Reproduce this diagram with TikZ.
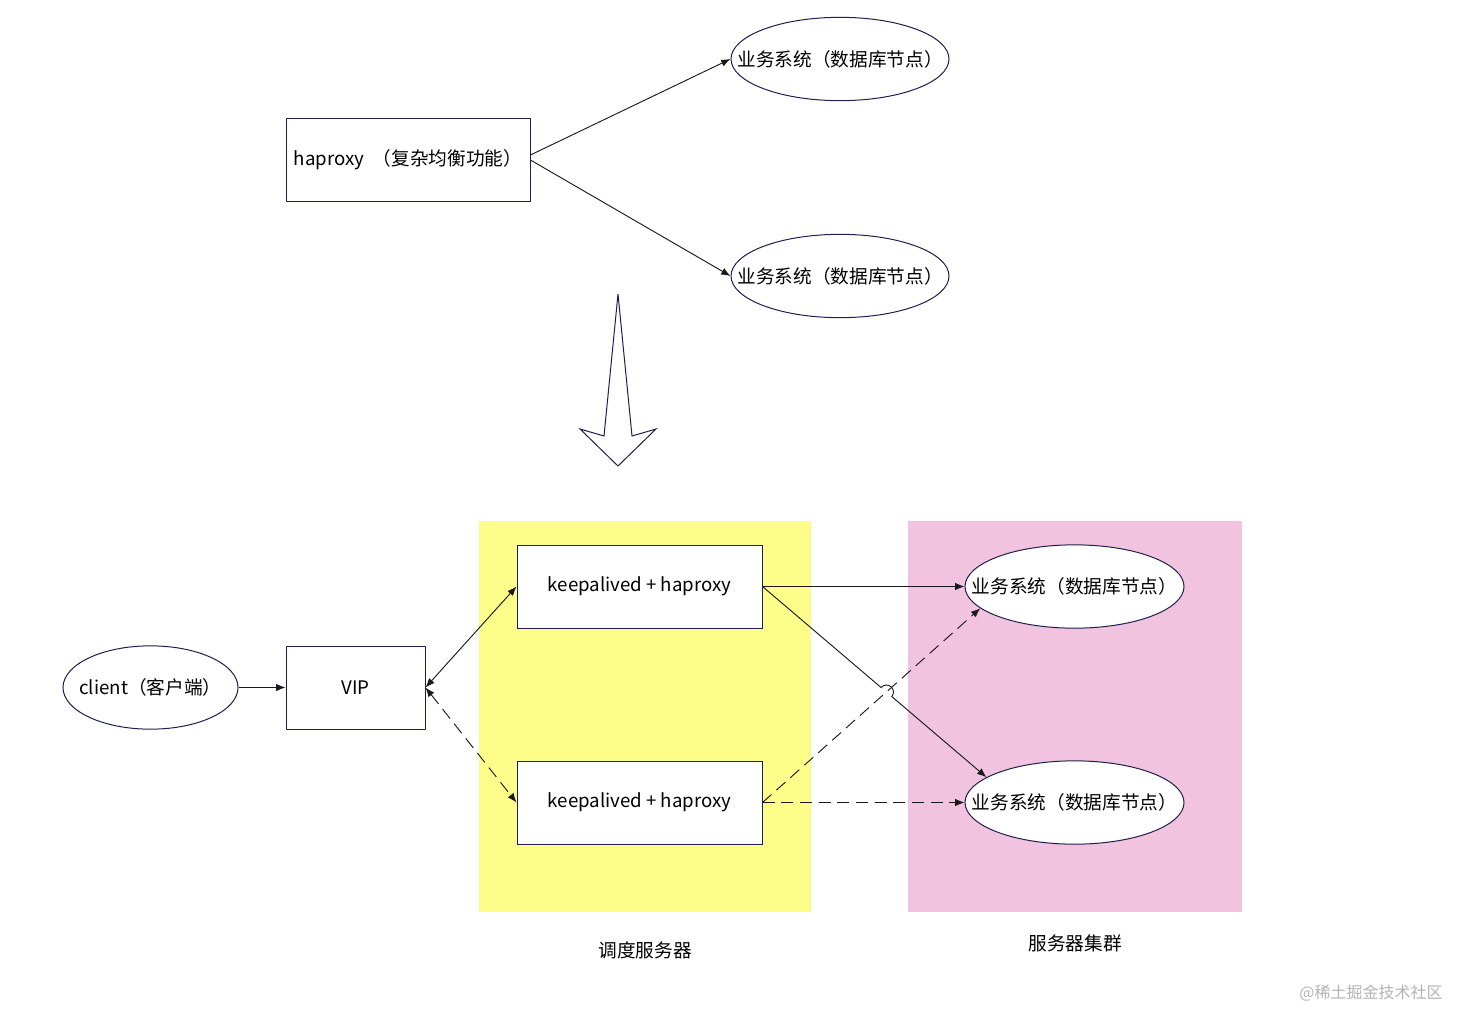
\documentclass[tikz,border=0pt]{standalone}
\usepackage{fontspec}
\setmainfont{Noto Sans CJK SC}
\usetikzlibrary{arrows.meta,shapes.geometric,calc}
\definecolor{navy}{HTML}{1F1F4F}
\definecolor{lineblk}{HTML}{1A1A1A}
\definecolor{zoneyellow}{HTML}{FDFD8A}
\definecolor{zonepink}{HTML}{F1C3DE}
\definecolor{wmgray}{HTML}{B4B4B4}
\begin{document}
\begin{tikzpicture}[x=0.75pt,y=0.75pt,
  font=\fontsize{14pt}{16pt}\selectfont,
  boxnode/.style={draw=navy,line width=0.75pt,fill=white,rectangle,inner sep=0pt},
  ellnode/.style={draw=navy,line width=0.75pt,fill=white,ellipse,inner sep=0pt,minimum width=163.5pt,minimum height=62.5pt},
  conn/.style={draw=lineblk,line width=0.7pt,-{Latex[length=7pt,width=5.5pt]}},
  biconn/.style={draw=lineblk,line width=0.7pt,{Latex[length=7pt,width=5.5pt]}-{Latex[length=7pt,width=5.5pt]}},
  dashconn/.style={dash pattern=on 9pt off 5pt}
]
\useasboundingbox (0,0) rectangle (1458,-1010);
\fill[white] (0,0) rectangle (1458,-1010);

% zones
\fill[zoneyellow] (479,-521) rectangle (811,-912);
\fill[zonepink] (908,-521) rectangle (1242,-912);

% top part
\node[boxnode,minimum width=183pt,minimum height=62.25pt] (hb) at (408,-159.5) {haproxy \ （复杂均衡功能）};
\node[ellnode,label={center:业务系统（数据库节点）}] (t1) at (840,-59) {};
\node[ellnode,label={center:业务系统（数据库节点）}] (t2) at (840,-276) {};
\draw[conn] ([yshift=3.4pt]hb.east) -- (t1.west);
\draw[conn] ([yshift=-0.4pt]hb.east) -- (t2.west);

% hollow down arrow
\draw[navy,line width=0.75pt,fill=white,line join=miter]
  (618,-294) -- (632,-436) -- (656,-429) -- (618,-466) -- (580,-429) -- (604,-436) -- cycle;

% bottom part
\node[ellnode,minimum width=131.25pt,label={center:client（客户端）}] (cl) at (150.5,-687.5) {};
\node[boxnode,minimum width=104.25pt,minimum height=62.25pt] (vip) at (355.5,-687.5) {VIP};
\node[boxnode,minimum width=183.75pt,minimum height=62.25pt] (k1) at (639.5,-586.5) {keepalived + haproxy};
\node[boxnode,minimum width=183.75pt,minimum height=62.25pt] (k2) at (639.5,-802.5) {keepalived + haproxy};
\node[ellnode,minimum width=164.25pt,label={center:业务系统（数据库节点）}] (r1) at (1074.5,-586.5) {};
\node[ellnode,minimum width=164.25pt,label={center:业务系统（数据库节点）}] (r2) at (1074.5,-802.5) {};

\node (lb1) at (645,-950) {调度服务器};
\node (lb2) at (1075,-943) {服务器集群};
\node[text=wmgray,font=\fontsize{12pt}{14pt}\selectfont] (wm) at (1371,-993) {@稀土掘金技术社区};

\draw[conn] (cl.east) -- (vip.west);
\draw[biconn] (vip.east) -- (k1.west);
\draw[biconn,dashconn] (vip.east) -- (k2.west);
\draw[conn] (k1.east) -- (r1.west);
\draw[conn,dashconn] (k2.east) -- (r2.west);
\draw[conn,dashconn] (k2.east) -- (r1.193);
\draw[conn] (k1.east) -- ($(k1.east)!0.5297!(r2.164)$)
  arc[start angle=139.8,end angle=-40.2,radius=5.25pt] -- (r2.164);
\end{tikzpicture}
\end{document}
